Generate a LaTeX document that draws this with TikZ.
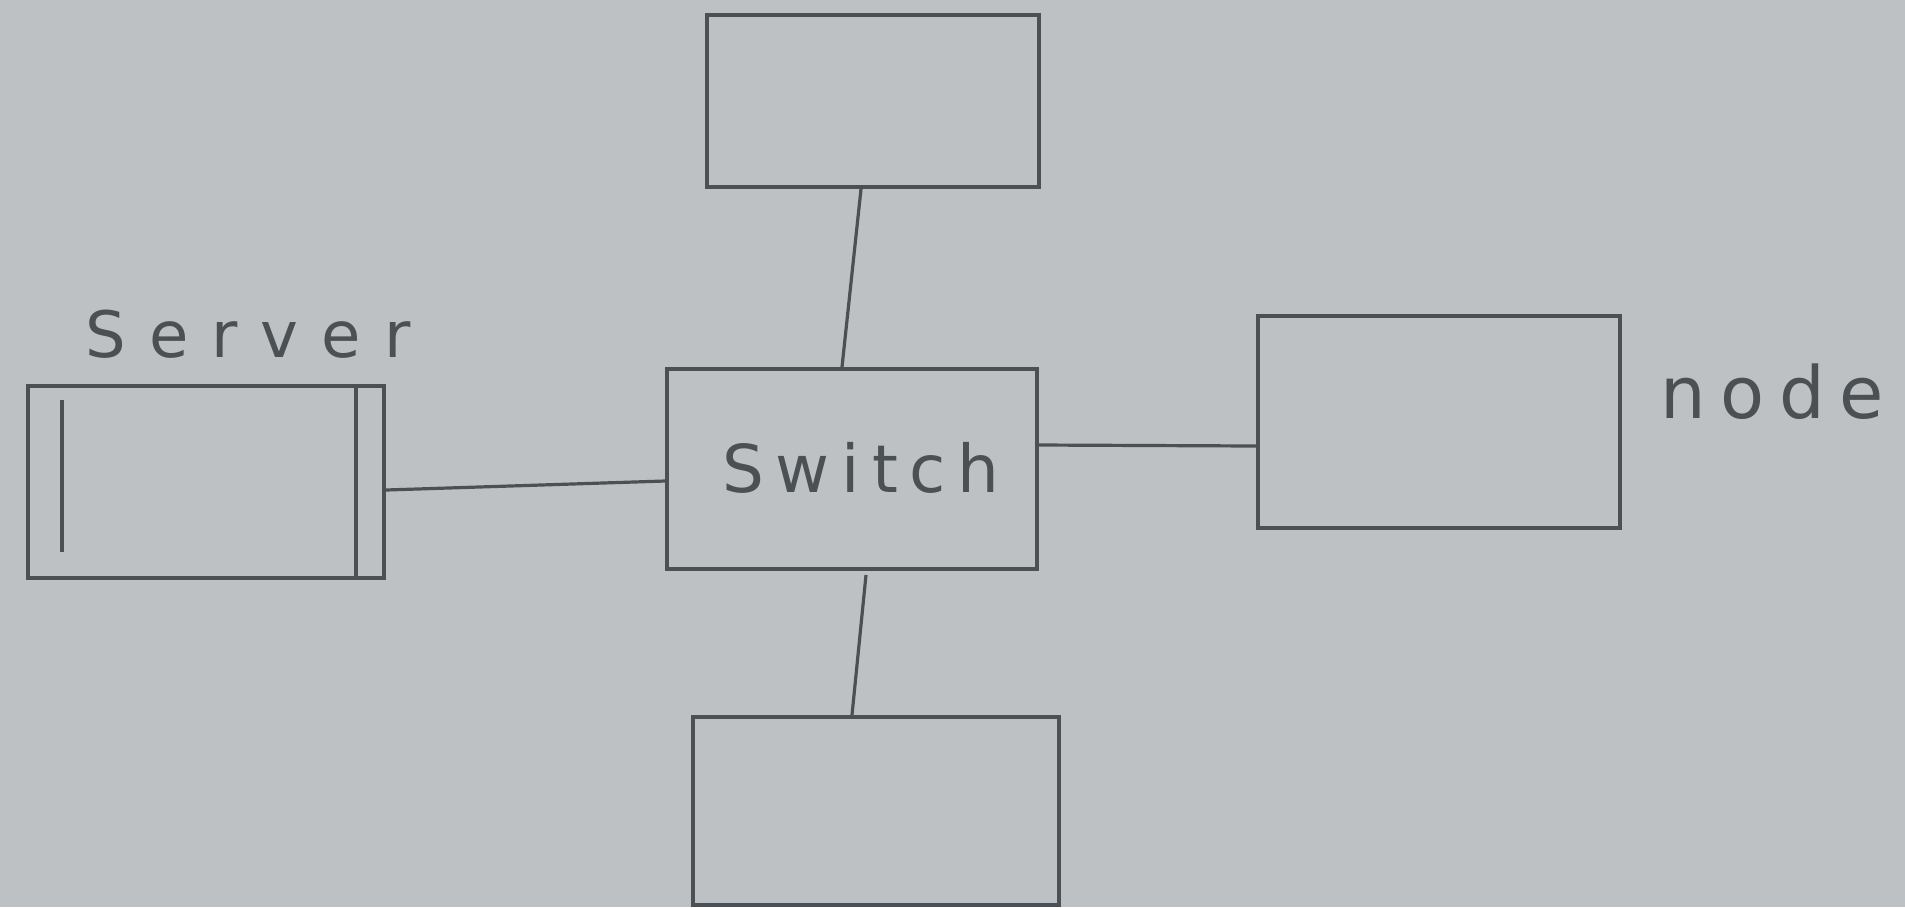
\documentclass[tikz,border=0pt]{standalone}
\usepackage{fontspec}
\usepackage{xcolor}
\usetikzlibrary{positioning}
\newfontfamily\handfont{DejaVu Sans}
\definecolor{paper}{HTML}{BDC1C3}
\definecolor{pencil}{HTML}{4B5054}

\begin{document}
\begin{tikzpicture}[
  x=0.5pt, y=-0.5pt,
  box/.style={draw=pencil, line width=2pt, minimum width=#1, inner sep=0pt},
  box/.default=180pt,
  link/.style={draw=pencil, line width=1.6pt},
  label/.style={text=pencil, inner sep=0pt}
]
\useasboundingbox[fill=paper] (0,0) rectangle (1905,907);

\node[box=185pt, minimum height=100pt] (sw) at (852,469) {};
\node[label, font=\handfont\addfontfeature{LetterSpace=18}\fontsize{33}{38}\selectfont] (swtxt) at (861,468) {Switch};
\node[box=166pt, minimum height=86pt] (top) at (873,101) {};
\node[box=178pt, minimum height=96pt] (srv) at (206,482) {};
\node[box=181pt, minimum height=106pt] (nd) at (1439,422) {};
\node[box=183pt, minimum height=94pt] (bot) at (876,811) {};

\node[label, font=\handfont\addfontfeature{LetterSpace=36}\fontsize{32}{36}\selectfont] (srvtxt) at (248,334) {Server};
\node[label, font=\handfont\addfontfeature{LetterSpace=20}\fontsize{36}{40}\selectfont] (ndtxt) at (1772,392) {node};

% inner edges of the server box
\draw[link] ([xshift=18pt,yshift=-8pt]srv.north west) -- ([xshift=18pt,yshift=14pt]srv.south west);
\draw[link] ([xshift=-15pt]srv.north east) -- ([xshift=-15pt]srv.south east);

\draw[link] ([xshift=-6pt]top.south) -- ([xshift=-5pt]sw.north);
\draw[link] ([yshift=-6pt]sw.west) -- ([yshift=-4pt]srv.east);
\draw[link] ([yshift=12pt]sw.east) -- ([yshift=-12pt]nd.west);
\draw[link] ([xshift=7pt,yshift=-2pt]sw.south) -- ([xshift=-12pt]bot.north);
\end{tikzpicture}
\end{document}
